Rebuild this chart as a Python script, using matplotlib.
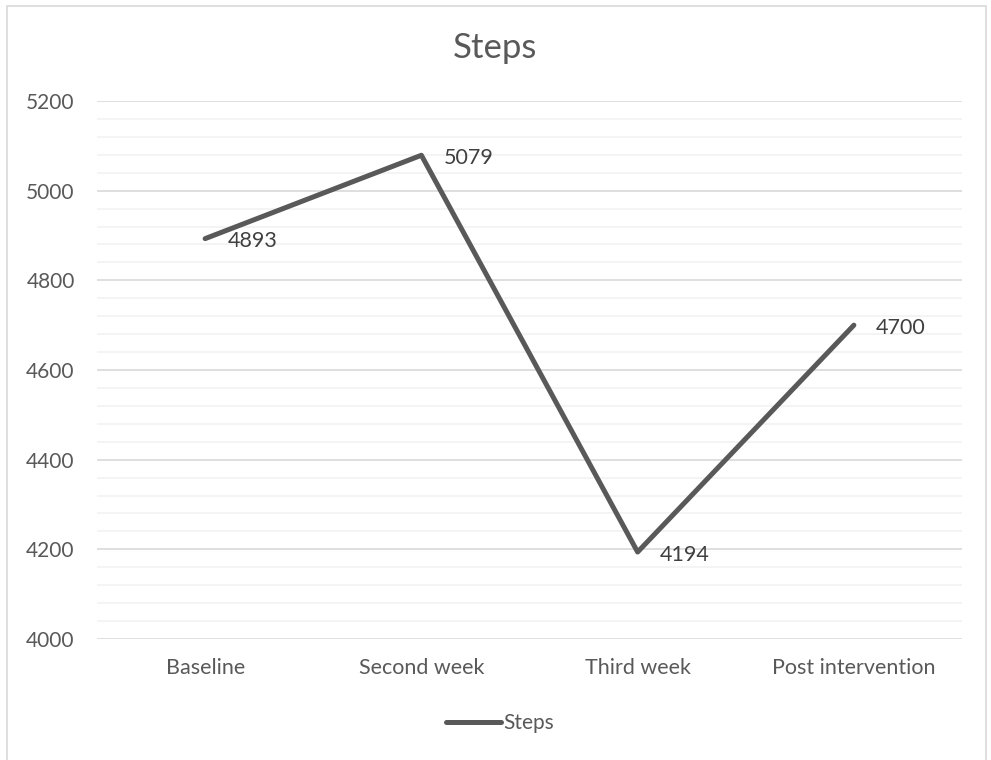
import matplotlib.pyplot as plt
from matplotlib.patches import Rectangle
from matplotlib.lines import Line2D

# dados
categorias = ['Baseline', 'Second week', 'Third week', 'Post intervention']
passos = [4893, 5079, 4194, 4700]
serie = 'Steps'

cinza = '#595959'
plt.rcParams['font.family'] = ['Lato', 'DejaVu Sans']

fig = plt.figure(figsize=(9.91, 7.6), dpi=100)
ax = fig.add_axes([97 / 991, 1 - 639 / 760, (962 - 97) / 991, (639 - 101) / 760])

# borda do gráfico (estilo Excel)
fig.patches.append(Rectangle((7 / 991, -0.01), 979 / 991, 1.01 - 6 / 760,
                             transform=fig.transFigure, fill=False,
                             edgecolor='#d9d9d9', linewidth=1.2))

x = list(range(len(categorias)))
ax.plot(x, passos, color=cinza, linewidth=3.6, solid_capstyle='round', zorder=3)

for xi, yi in zip(x, passos):
    ax.annotate(str(yi), (xi, yi), xytext=(16, -2), textcoords='offset points',
                ha='left', va='center', fontsize=15.5, color='#404040')

ax.set_xlim(-0.5, len(categorias) - 0.5)
ax.set_ylim(4000, 5200)
ax.set_yticks(range(4000, 5201, 200))
ax.set_yticks(range(4000, 5201, 40), minor=True)
ax.set_xticks(x)
ax.set_xticklabels(categorias)

ax.grid(True, which='major', axis='y', color='#d9d9d9', linewidth=1.2, zorder=0)
ax.grid(True, which='minor', axis='y', color='#f2f2f2', linewidth=1.2, zorder=0)
ax.set_axisbelow(True)

for s in ax.spines.values():
    s.set_visible(False)
ax.tick_params(axis='both', which='both', length=0, labelcolor=cinza)
ax.tick_params(axis='y', pad=16, labelsize=15)
ax.tick_params(axis='x', pad=14, labelsize=15.5)

fig.text(0.5, 1 - 48 / 760, 'Steps', ha='center', va='center', fontsize=25,
         color=cinza)

# legenda
handle = Line2D([], [], color=cinza, linewidth=3.6, solid_capstyle='round')
fig.legend([handle], [serie], loc='center', bbox_to_anchor=(0.505, 1 - 723 / 760),
           frameon=False, fontsize=15, labelcolor=cinza, handlelength=2.6,
           handletextpad=0.15)

plt.savefig('out.png', dpi=100)
